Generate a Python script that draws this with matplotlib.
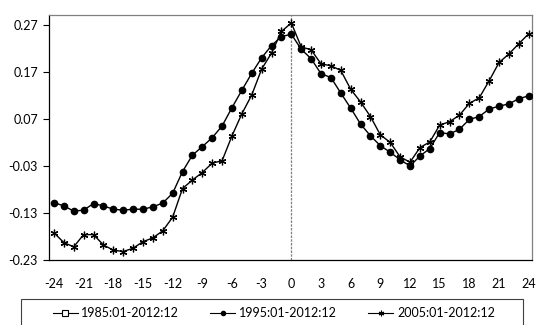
import numpy as np
import matplotlib
matplotlib.use("Agg")
import matplotlib.pyplot as plt
from matplotlib.patches import Rectangle
from matplotlib.lines import Line2D

plt.rcParams['font.family'] = ['Lato', 'DejaVu Sans']

# months relative to event
months = np.arange(-24, 25)
xticks = np.arange(-24, 25, 3)
yticks = [-0.23, -0.13, -0.03, 0.07, 0.17, 0.27]

# 1995:01-2012:12
s1995 = [-0.108, -0.115, -0.126, -0.124, -0.110, -0.115, -0.122, -0.124, -0.122, -0.122,
         -0.117, -0.109, -0.088, -0.042, -0.007, 0.011, 0.030, 0.055, 0.094, 0.131,
         0.167, 0.200, 0.226, 0.245, 0.250,
         0.218, 0.198, 0.166, 0.158, 0.125, 0.093, 0.059, 0.034, 0.013, -0.001,
         -0.017, -0.030, -0.009, 0.007, 0.041, 0.038, 0.048, 0.069, 0.075, 0.091,
         0.097, 0.102, 0.113, 0.119]

# 2005:01-2012:12
s2005 = [-0.172, -0.193, -0.202, -0.176, -0.176, -0.198, -0.209, -0.212, -0.205, -0.191,
         -0.183, -0.168, -0.139, -0.078, -0.060, -0.044, -0.024, -0.019, 0.034, 0.081,
         0.121, 0.176, 0.210, 0.256, 0.274,
         0.223, 0.217, 0.187, 0.183, 0.173, 0.133, 0.106, 0.075, 0.036, 0.020,
         -0.011, -0.022, 0.009, 0.021, 0.057, 0.064, 0.078, 0.103, 0.115, 0.151,
         0.190, 0.208, 0.230, 0.251]

labels = ['1985:01-2012:12', '1995:01-2012:12', '2005:01-2012:12']

star = (6, 2, 0)

fig = plt.figure(figsize=(5.42, 3.25), dpi=100)
ax = fig.add_axes([0.0904, 0.2, 0.8906, 0.754])

ax.axvline(0, color='#808080', lw=0.9, ls=(0, (2, 1)), zorder=1)
ax.plot(months, s1995, color='black', lw=1.0, marker='o', ms=4.5, zorder=3)
ax.plot(months, s2005, color='black', lw=1.0, marker=star, ms=5.5, mew=0.9, zorder=3)

ax.set_xlim(-24.5, 24.3)
ax.set_ylim(-0.23, 0.291)
ax.set_xticks(xticks)
ax.set_xticklabels([str(t) for t in xticks])
ax.set_yticks(yticks)
ax.set_yticklabels(['%.2f' % t for t in yticks])
ax.tick_params(axis='x', length=0, pad=13, labelsize=9)
ax.tick_params(axis='y', length=4, width=0.8, direction='out', pad=4, labelsize=9)

for side in ['top', 'right']:
    ax.spines[side].set_color('#808080')
    ax.spines[side].set_linewidth(0.9)
for side in ['left', 'bottom']:
    ax.spines[side].set_color('black')
    ax.spines[side].set_linewidth(0.9)

# legend box (cut off at the bottom as in the original)
fig.patches.append(Rectangle((21 / 542, -0.1), (523 - 21) / 542, 0.1 + 1 - 299 / 325,
                             transform=fig.transFigure, fill=False, ec='#404040', lw=0.8))

handles = [
    Line2D([], [], color='black', lw=0.8, marker='s', ms=4, mfc='white', mew=0.8),
    Line2D([], [], color='black', lw=0.8, marker='o', ms=3),
    Line2D([], [], color='black', lw=0.8, marker=star, ms=4, mew=0.8),
]
fig.legend(handles, labels, loc='center', bbox_to_anchor=(0.505, 1 - 313 / 325),
           ncol=3, frameon=False, fontsize=9, handlelength=2.0, handletextpad=0.3,
           columnspacing=2.5)

fig.savefig('out.png', dpi=100)
